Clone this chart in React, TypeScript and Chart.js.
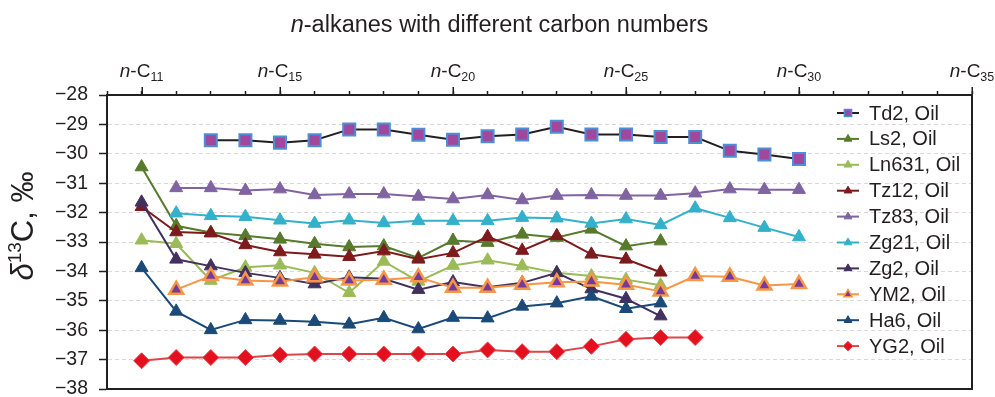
import React, { useEffect, useRef } from 'react';
import { Chart, registerables } from 'chart.js';
import { drawPoint } from 'chart.js/helpers';

Chart.register(...registerables);

// ---------- data ----------
const carbons = [11, 12, 13, 14, 15, 16, 17, 18, 19, 20, 21, 22, 23, 24, 25, 26, 27, 28, 29, 30];
const labeledCarbons = [11, 15, 20, 25, 30, 35];
const yTicks = [-28, -29, -30, -31, -32, -33, -34, -35, -36, -37, -38];

const td2 = [null, null, -29.54, -29.54, -29.62, -29.54, -29.17, -29.17, -29.35, -29.52, -29.40, -29.34, -29.08, -29.34, -29.34, -29.43, -29.43, -29.90, -30.02, -30.18];
const ls2 = [-30.45, -32.45, -32.68, -32.79, -32.91, -33.06, -33.17, -33.14, -33.54, -32.95, -33.02, -32.74, -32.85, -32.57, -33.14, -32.97, null, null, null, null];
const ln631 = [-32.94, -33.06, -34.31, -33.86, -33.79, -34.05, -34.73, -33.66, -34.34, -33.80, -33.62, -33.82, -34.05, -34.16, -34.28, -34.47, null, null, null, null];
const tz12 = [-31.80, -32.66, -32.70, -33.10, -33.34, -33.42, -33.50, -33.31, -33.59, -33.37, -32.82, -33.29, -32.79, -33.42, -33.59, -34.03, null, null, null, null];
const tz83 = [null, -31.16, -31.16, -31.25, -31.20, -31.40, -31.37, -31.37, -31.45, -31.54, -31.40, -31.57, -31.42, -31.40, -31.42, -31.42, -31.34, -31.20, -31.22, -31.22];
const zg21 = [null, -32.02, -32.11, -32.14, -32.26, -32.37, -32.26, -32.35, -32.28, -32.28, -32.28, -32.17, -32.19, -32.37, -32.22, -32.42, -31.85, -32.18, -32.51, -32.83];
const zg2 = [-31.65, -33.59, -33.82, -34.05, -34.22, -34.43, -34.20, -34.25, -34.62, -34.36, -34.54, -34.39, -34.05, -34.60, -34.93, -35.52, null, null, null, null];
const ym2 = [null, -34.62, -34.16, -34.31, -34.34, -34.20, -34.31, -34.28, -34.20, -34.56, -34.56, -34.45, -34.37, -34.34, -34.45, -34.68, -34.16, -34.18, -34.48, -34.43];
const ha6 = [-33.88, -35.36, -35.99, -35.65, -35.67, -35.71, -35.80, -35.58, -35.96, -35.57, -35.59, -35.19, -35.08, -34.85, -35.27, -35.08, null, null, null, null];
const yg2 = [-37.04, -36.93, -36.93, -36.93, -36.84, -36.81, -36.81, -36.81, -36.81, -36.81, -36.67, -36.73, -36.73, -36.55, -36.31, -36.25, -36.25, null, null, null];

const seriesNames = ['Td2, Oil', 'Ls2, Oil', 'Ln631, Oil', 'Tz12, Oil', 'Tz83, Oil', 'Zg21, Oil', 'Zg2, Oil', 'YM2, Oil', 'Ha6, Oil', 'YG2, Oil'];
const seriesValues = [td2, ls2, ln631, tz12, tz83, zg21, zg2, ym2, ha6, yg2];

// ---------- styles ----------
const FONT = "'Liberation Sans', Arial, Helvetica, sans-serif";
const INK = '#231f20';

type St = { line: string; fill: string; border: string; shape: string; r: number; bw: number };
const styles: St[] = [
  { line: '#231f20', fill: '#a1489c', border: '#4d8fd6', shape: 'rect', r: 8.5, bw: 2 },
  { line: '#577a2c', fill: '#577a2c', border: '#577a2c', shape: 'triangle', r: 7.5, bw: 1 },
  { line: '#9bbb59', fill: '#9bbb59', border: '#9bbb59', shape: 'triangle', r: 7.5, bw: 1 },
  { line: '#7e1a1c', fill: '#7e1a1c', border: '#7e1a1c', shape: 'triangle', r: 7.5, bw: 1 },
  { line: '#8064a2', fill: '#8064a2', border: '#8064a2', shape: 'triangle', r: 7.5, bw: 1 },
  { line: '#33b0ca', fill: '#33b0ca', border: '#33b0ca', shape: 'triangle', r: 7.5, bw: 1 },
  { line: '#42305f', fill: '#42305f', border: '#42305f', shape: 'triangle', r: 7.5, bw: 1 },
  { line: '#f79646', fill: '#763a9c', border: '#f79646', shape: 'triangle', r: 8, bw: 2.5 },
  { line: '#1b4a78', fill: '#1b4a78', border: '#1b4a78', shape: 'triangle', r: 7.5, bw: 1 },
  { line: '#d9474a', fill: '#e3101f', border: '#e8474b', shape: 'rectRot', r: 8, bw: 1 },
];

type Part = { text: string; size: number; italic?: boolean; dy?: number };

function partFont(p: Part) {
  return `${p.italic ? 'italic ' : ''}${p.size}px ${FONT}`;
}

function drawParts(ctx: CanvasRenderingContext2D, parts: Part[], cx: number, baseline: number) {
  let total = 0;
  for (const p of parts) {
    ctx.font = partFont(p);
    total += ctx.measureText(p.text).width;
  }
  let x = cx - total / 2;
  ctx.textAlign = 'left';
  ctx.textBaseline = 'alphabetic';
  for (const p of parts) {
    ctx.font = partFont(p);
    ctx.fillText(p.text, x, baseline + (p.dy || 0));
    x += ctx.measureText(p.text).width;
  }
}

const decorPlugin = {
  id: 'decor',
  beforeDatasetsDraw(chart: any) {
    const { ctx, chartArea: a } = chart;
    const xs = chart.scales.x;
    ctx.save();
    ctx.strokeStyle = INK;
    ctx.lineWidth = 2;
    ctx.beginPath();
    ctx.moveTo(a.right, a.top);
    ctx.lineTo(a.right, a.bottom);
    ctx.lineTo(a.left, a.bottom);
    ctx.stroke();
    ctx.lineWidth = 1.5;
    ctx.beginPath();
    for (const c of labeledCarbons) {
      const px = Math.round(xs.getPixelForValue(c)) + 0.25;
      ctx.moveTo(px, a.top);
      ctx.lineTo(px, a.top - 8);
    }
    ctx.stroke();
    ctx.restore();
  },
  afterDraw(chart: any) {
    const { ctx, chartArea: a } = chart;
    const xs = chart.scales.x;
    ctx.save();
    ctx.fillStyle = INK;
    // title
    drawParts(ctx, [
      { text: 'n', size: 23.5, italic: true },
      { text: '-alkanes with different carbon numbers', size: 23.5 },
    ], (a.left + a.right) / 2 - 40, 32);
    // x labels
    for (const c of labeledCarbons) {
      drawParts(ctx, [
        { text: 'n', size: 19, italic: true },
        { text: '-C', size: 19 },
        { text: String(c), size: 12.5, dy: 4 },
      ], xs.getPixelForValue(c), 77);
    }
    // y title
    ctx.save();
    ctx.translate(33, (a.top + a.bottom) / 2 - 16);
    ctx.rotate(-Math.PI / 2);
    drawParts(ctx, [
      { text: 'δ', size: 31, italic: true },
      { text: '13', size: 19, dy: -12 },
      { text: 'C, ‰', size: 31 },
    ], 0, 0);
    ctx.restore();
    // legend
    const lx0 = 837, lx1 = 859, tx = 869;
    seriesNames.forEach((name, i) => {
      const st = styles[i];
      const y = 113 + i * 25.9;
      ctx.strokeStyle = st.line;
      ctx.lineWidth = 2;
      ctx.beginPath();
      ctx.moveTo(lx0, y);
      ctx.lineTo(lx1, y);
      ctx.stroke();
      ctx.fillStyle = st.fill;
      ctx.strokeStyle = st.border;
      ctx.lineWidth = st.bw > 1.5 ? 1.5 : st.bw;
      drawPoint(ctx, { pointStyle: st.shape as any, radius: st.r * 0.6, rotation: 0, borderWidth: ctx.lineWidth }, (lx0 + lx1) / 2, y);
      ctx.fillStyle = INK;
      ctx.font = `20px ${FONT}`;
      ctx.textAlign = 'left';
      ctx.textBaseline = 'middle';
      ctx.fillText(name, tx, y + 1);
    });
    ctx.restore();
  },
};

export default function App() {
  const ref = useRef<HTMLCanvasElement>(null);
  useEffect(() => {
    if (!ref.current) return;
    const datasets = seriesValues.map((vals, i) => {
      const st = styles[i];
      const data = carbons
        .map((c, k) => ({ x: c, y: vals[k] }))
        .filter((p) => p.y !== null) as { x: number; y: number }[];
      return {
        label: seriesNames[i],
        data,
        order: 20 - i,
        borderColor: st.line,
        borderWidth: 2,
        tension: 0,
        fill: false,
        pointStyle: st.shape as any,
        pointRadius: st.r,
        pointBackgroundColor: st.fill,
        pointBorderColor: st.border,
        pointBorderWidth: st.bw,
      };
    });
    const chart = new Chart(ref.current, {
      type: 'line',
      data: { datasets },
      options: {
        responsive: false,
        animation: false,
        devicePixelRatio: 1,
        layout: { autoPadding: false, padding: { left: 0, right: 23, top: 0, bottom: 8 } },
        plugins: {
          legend: { display: false },
          title: { display: false },
          tooltip: { enabled: false },
        },
        scales: {
          x: {
            type: 'linear',
            position: 'top',
            min: 10,
            max: 35,
            ticks: { stepSize: 1, autoSkip: false, maxRotation: 0, callback: () => '' },
            grid: { drawOnChartArea: false, drawTicks: true, tickLength: 4, tickColor: INK, tickWidth: 1.5 },
            border: { color: INK, width: 2 },
            afterFit: (s: any) => { s.height = 95; s.paddingLeft = 0; s.paddingRight = 0; },
          },
          y: {
            type: 'linear',
            min: yTicks[yTicks.length - 1],
            max: yTicks[0],
            afterBuildTicks: (s: any) => { s.ticks = yTicks.map((v) => ({ value: v })); },
            ticks: {
              padding: 11,
              color: INK,
              font: { family: FONT, size: 19.5 },
              callback: (v: any) => '\u2212' + Math.abs(Number(v)),
            },
            grid: { color: '#d9d9d9', lineWidth: 1, tickLength: 8, tickColor: INK, tickWidth: 1.5 },
            border: { color: INK, width: 2, dash: [4, 3] },
            afterFit: (s: any) => { s.width = 107; s.paddingTop = 0; s.paddingBottom = 0; },
          },
        },
      },
      plugins: [decorPlugin],
    });
    return () => chart.destroy();
  }, []);
  return (
    <div style={{ position: 'absolute', left: 0, top: 0, width: 995, height: 397, background: '#fff' }}>
      <canvas ref={ref} width={995} height={397} style={{ width: 995, height: 397, display: 'block' }} />
    </div>
  );
}
